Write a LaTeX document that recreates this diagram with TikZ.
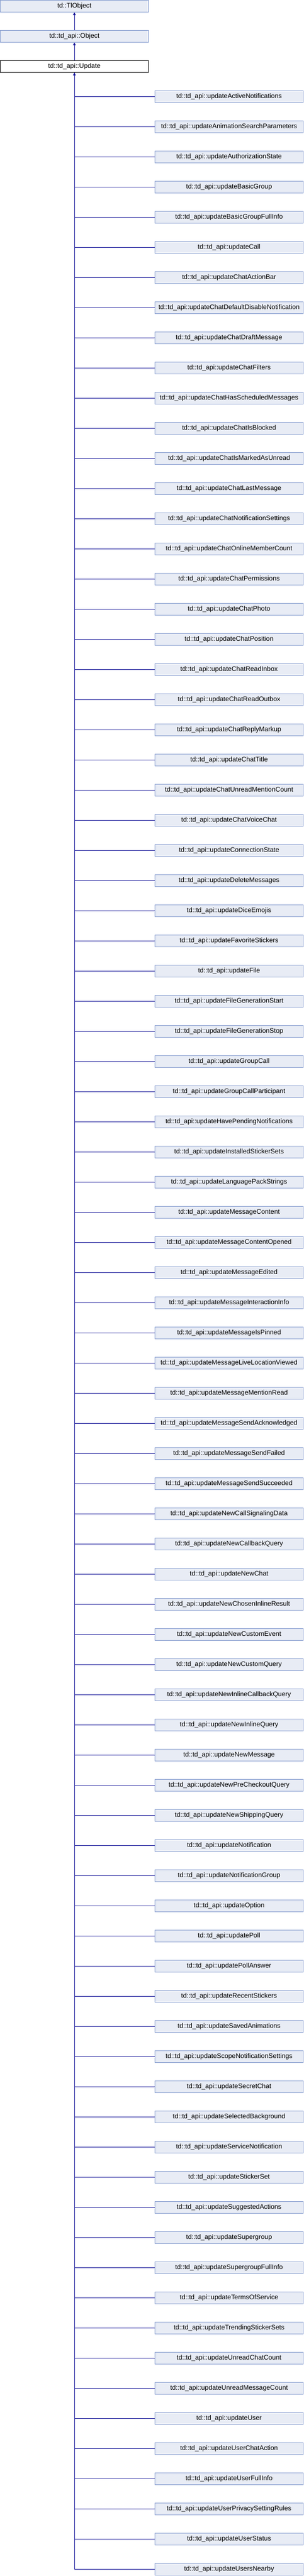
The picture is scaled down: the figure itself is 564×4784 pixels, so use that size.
\documentclass[tikz,border=0pt]{standalone}
\usepackage{fontspec}
\setmainfont{Liberation Sans}
\usetikzlibrary{arrows.meta}
\definecolor{clsfill}{RGB}{232,236,245}
\definecolor{clsline}{RGB}{132,155,206}
\definecolor{edgeblue}{RGB}{16,16,150}
\tikzset{
  cls/.style={draw=clsline, fill=clsfill, line width=1pt, minimum width=275pt,
    minimum height=22pt, inner sep=0pt, font=\fontsize{12.3}{14}\selectfont},
  current/.style={cls, draw=black, fill=white},
  inherit/.style={draw=edgeblue, line width=1pt},
  tip/.style={-{Triangle[width=5pt,length=5pt]}},
}
\begin{document}
\begin{tikzpicture}[x=1pt,y=-1pt]
  \useasboundingbox (0,0) rectangle (564,4784);
  \node[cls] (tlobject) at (138,11.5) {td::TlObject};
  \node[cls] (object) at (138,67.5) {td::td\_api::Object};
  \node[current] (update) at (138,123.5) {td::td\_api::Update};
  \draw[inherit,tip] (object) -- (tlobject);
  \draw[inherit,tip] (update) -- (object);
  % derived classes
  \foreach \name [count=\i] in {ActiveNotifications,AnimationSearchParameters,
    AuthorizationState,BasicGroup,BasicGroupFullInfo,Call,ChatActionBar,
    ChatDefaultDisableNotification,ChatDraftMessage,ChatFilters,
    ChatHasScheduledMessages,ChatIsBlocked,ChatIsMarkedAsUnread,ChatLastMessage,
    ChatNotificationSettings,ChatOnlineMemberCount,ChatPermissions,ChatPhoto,
    ChatPosition,ChatReadInbox,ChatReadOutbox,ChatReplyMarkup,ChatTitle,
    ChatUnreadMentionCount,ChatVoiceChat,ConnectionState,DeleteMessages,
    DiceEmojis,FavoriteStickers,File,FileGenerationStart,FileGenerationStop,
    GroupCall,GroupCallParticipant,HavePendingNotifications,InstalledStickerSets,
    LanguagePackStrings,MessageContent,MessageContentOpened,MessageEdited,
    MessageInteractionInfo,MessageIsPinned,MessageLiveLocationViewed,
    MessageMentionRead,MessageSendAcknowledged,MessageSendFailed,
    MessageSendSucceeded,NewCallSignalingData,NewCallbackQuery,NewChat,
    NewChosenInlineResult,NewCustomEvent,NewCustomQuery,NewInlineCallbackQuery,
    NewInlineQuery,NewMessage,NewPreCheckoutQuery,NewShippingQuery,Notification,
    NotificationGroup,Option,Poll,PollAnswer,RecentStickers,SavedAnimations,
    ScopeNotificationSettings,SecretChat,SelectedBackground,ServiceNotification,
    StickerSet,SuggestedActions,Supergroup,SupergroupFullInfo,TermsOfService,
    TrendingStickerSets,UnreadChatCount,UnreadMessageCount,User,UserChatAction,
    UserFullInfo,UserPrivacySettingRules,UserStatus,UsersNearby}{
    \node[cls] (u\i) at (425,{123.5+56*\i}) {td::td\_api::update\name};
    \draw[inherit] (u\i.west) -| (update.south);
  }
  \draw[inherit,tip] (u1.west -| update.south) -- (update.south);
\end{tikzpicture}
\end{document}
